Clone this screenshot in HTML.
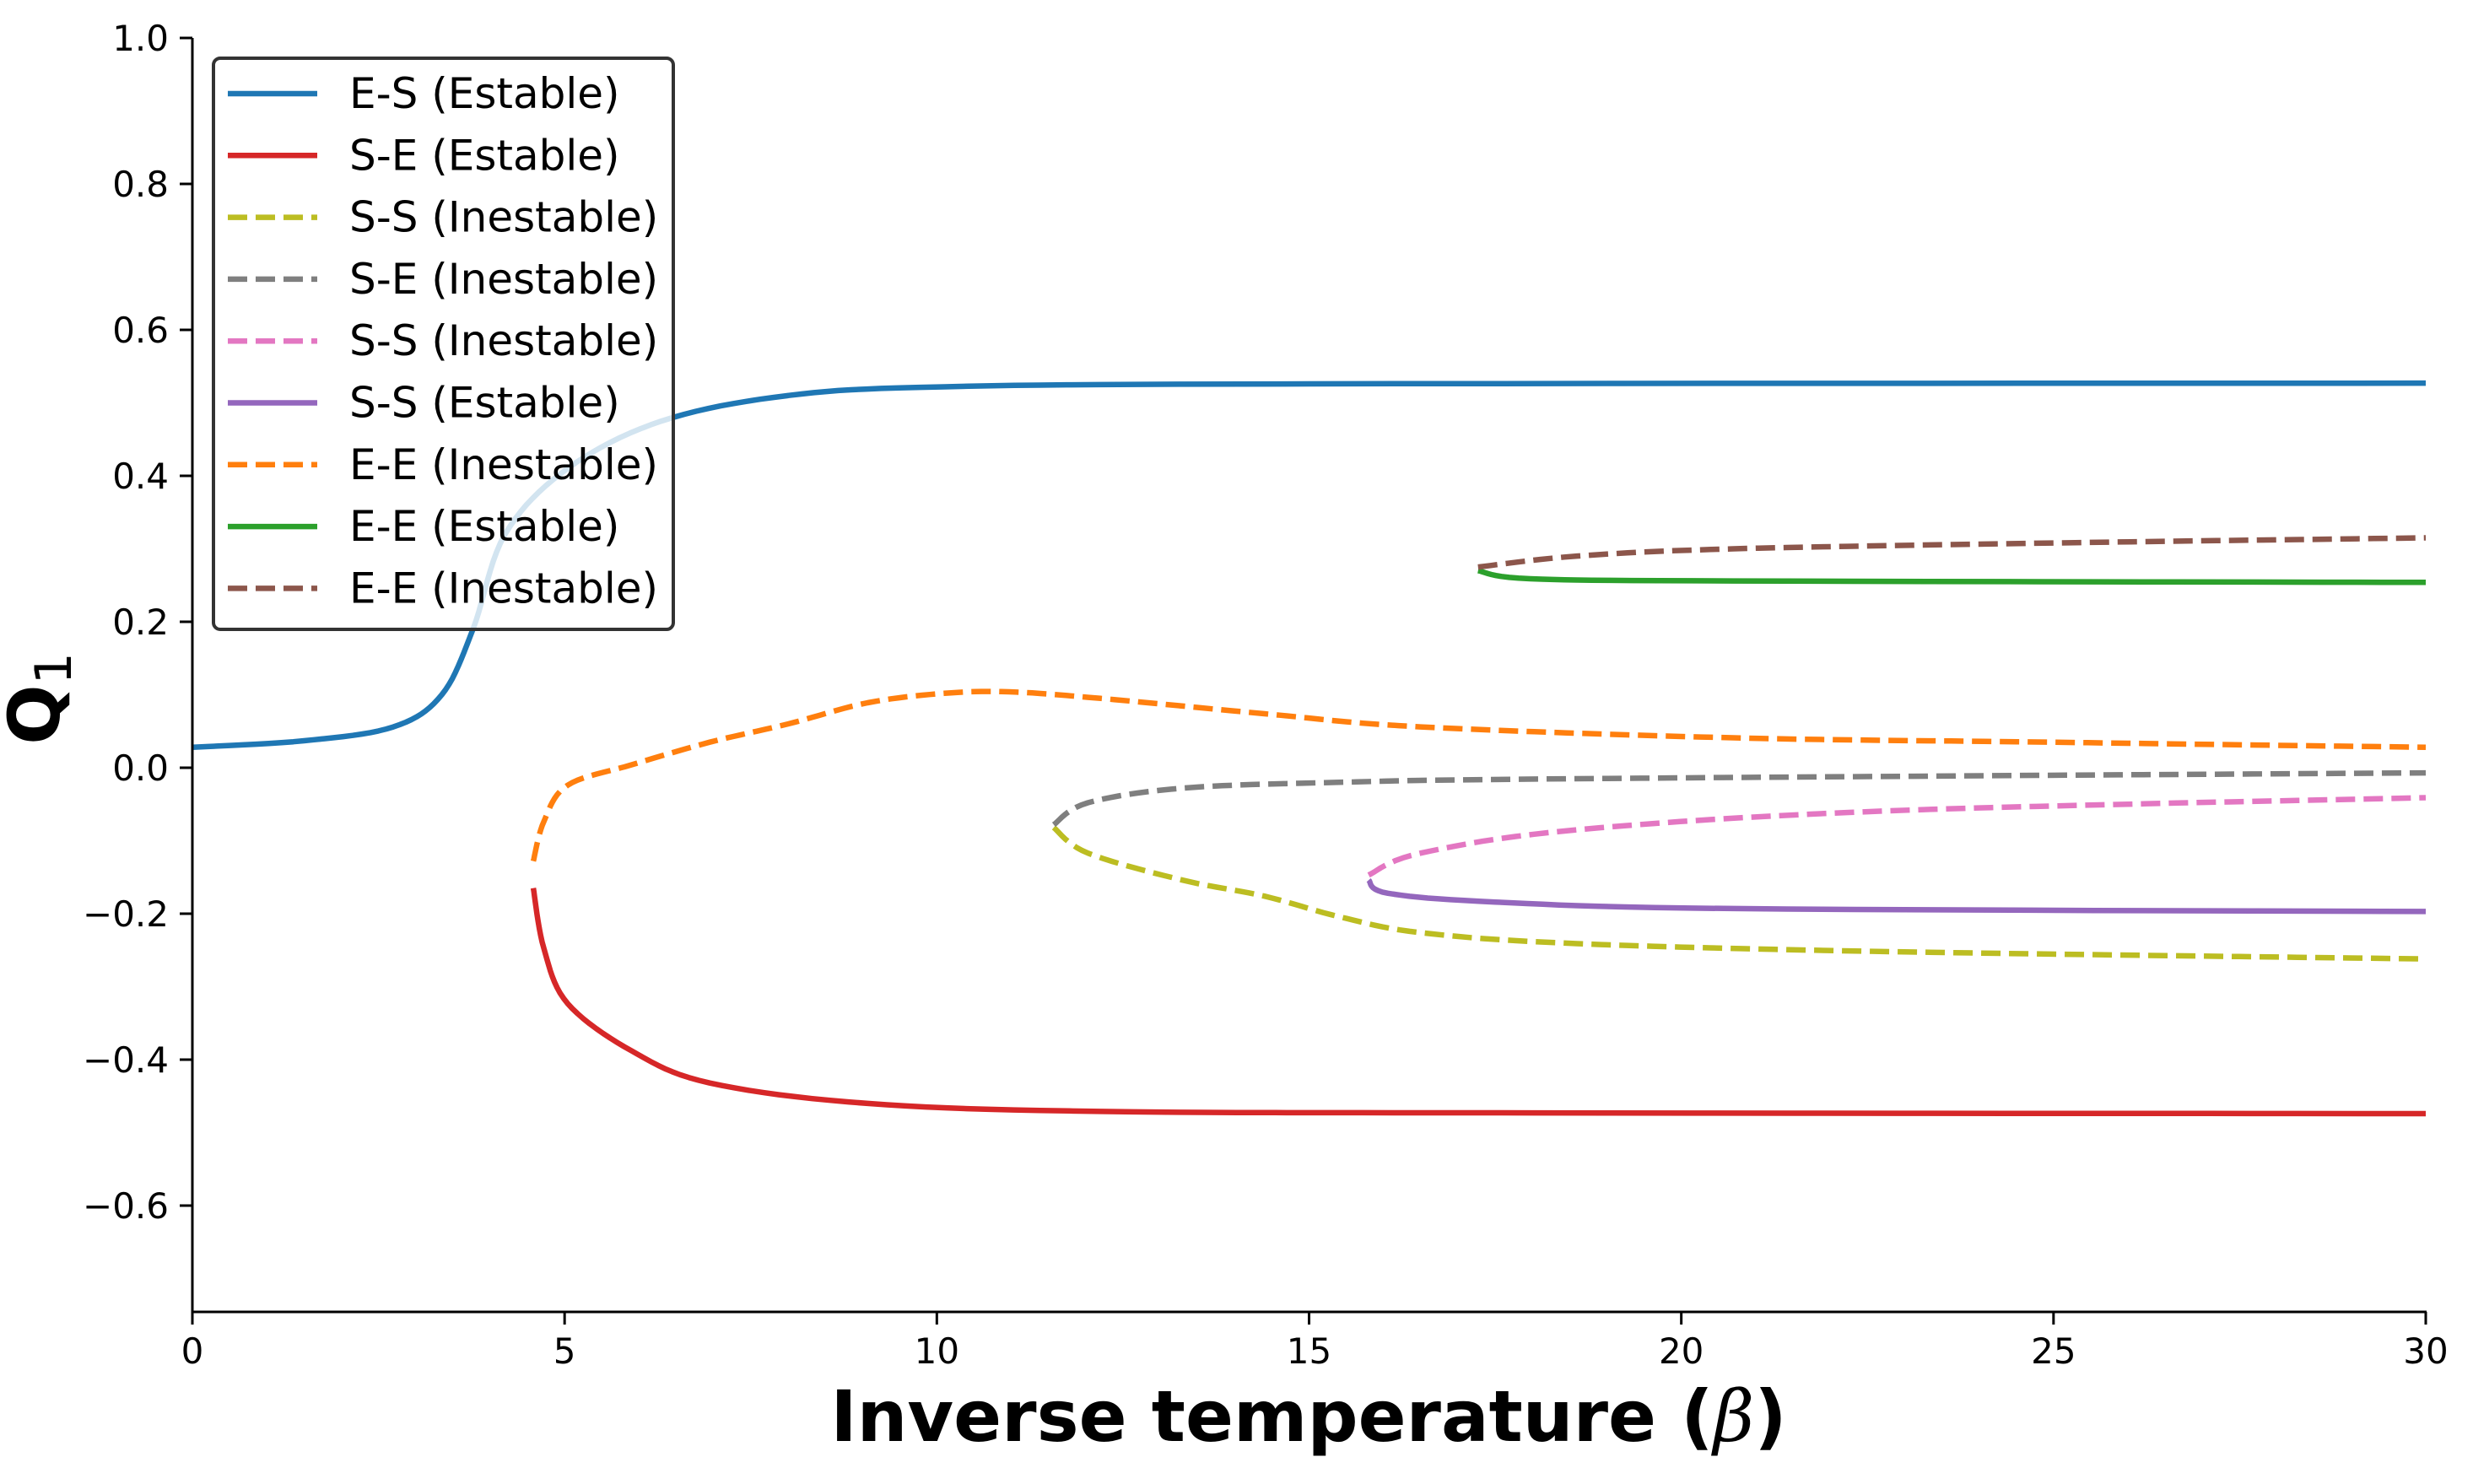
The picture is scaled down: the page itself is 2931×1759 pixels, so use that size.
<!DOCTYPE html>
<html><head><meta charset="utf-8"><style>
html,body{margin:0;padding:0;background:#fff}
svg{display:block}
text{font-family:"DejaVu Sans","Liberation Sans",sans-serif}
</style></head><body>
<svg id="s" width="2931" height="1759" xmlns="http://www.w3.org/2000/svg"></svg>
<script>
const s=document.getElementById('s');
const X=b=>228+b*(2875-228)/30, Y=q=>45+(1-q)*865;
let h='';
function line(pts,col,dash){
  let d=pts.map((p,i)=>(i?'L':'M')+X(p[0]).toFixed(1)+' '+Y(p[1]).toFixed(1)).join(' ');
  h+=`<path d="${d}" fill="none" stroke="${col}" stroke-width="6.5" stroke-linejoin="round" ${dash?'stroke-dasharray="23 10"':'stroke-linecap="butt"'}/>`;
}
function smooth(pts){
  const out=[];
  for(let i=0;i<pts.length-1;i++){
    const p0=pts[Math.max(0,i-1)],p1=pts[i],p2=pts[i+1],p3=pts[Math.min(pts.length-1,i+2)];
    for(let t=0;t<1;t+=0.1){
      const t2=t*t,t3=t2*t;
      const f=(a,b,c,d)=>0.5*((2*b)+(-a+c)*t+(2*a-5*b+4*c-d)*t2+(-a+3*b-3*c+d)*t3);
      out.push([f(p0[0],p1[0],p2[0],p3[0]),f(p0[1],p1[1],p2[1],p3[1])]);
    }
  }
  out.push(pts[pts.length-1]);return out;
}
line(smooth([[0,0.028],[1.5,0.037],[2.7,0.056],[3.35,0.1],[3.77,0.19],[4.2,0.32],[5.04,0.41],[6.3,0.475],[8,0.51],[10.1,0.522],[15,0.526],[30,0.527]]),'#1f77b4');
line(smooth([[4.58,-0.165],[4.72,-0.247],[5.04,-0.323],[5.9,-0.388],[6.95,-0.432],[9.07,-0.46],[12.2,-0.471],[18,-0.473],[30,-0.474]]),'#d62728');
line(smooth([[11.57,-0.082],[12.03,-0.117],[13.3,-0.154],[14.4,-0.176],[15.4,-0.204],[16.5,-0.226],[18.6,-0.241],[22.8,-0.252],[30,-0.262]]),'#bcbd22',1);
line(smooth([[11.57,-0.078],[12.03,-0.048],[13.3,-0.028],[15.4,-0.02],[18.6,-0.015],[30,-0.007]]),'#7f7f7f',1);
line(smooth([[15.8,-0.147],[16.5,-0.117],[18.6,-0.085],[22.8,-0.059],[30,-0.041]]),'#e377c2',1);
line(smooth([[15.8,-0.154],[16.06,-0.172],[17.5,-0.184],[20.7,-0.193],[30,-0.197]]),'#9467bd');
line(smooth([[4.58,-0.128],[4.72,-0.074],[5.04,-0.024],[5.9,0.004],[6.95,0.035],[8,0.06],[9.07,0.089],[10.1,0.102],[10.97,0.104],[12.2,0.095],[14.4,0.074],[16.5,0.056],[20.7,0.041],[24.96,0.035],[30,0.028]]),'#ff7f0e',1);
line(smooth([[17.27,0.27],[17.97,0.259],[20.7,0.256],[30,0.254]]),'#2ca02c');
line(smooth([[17.27,0.275],[18.6,0.29],[20.7,0.3],[25,0.308],[30,0.315]]),'#8c564b',1);
h+=`<line x1="228" y1="45" x2="228" y2="1556.5" stroke="#000" stroke-width="3"/>`;
h+=`<line x1="226.5" y1="1555" x2="2876" y2="1555" stroke="#000" stroke-width="3"/>`;
for(let i=0;i<=6;i++){const x=X(i*5);
 h+=`<line x1="${x}" y1="1555" x2="${x}" y2="1570" stroke="#000" stroke-width="3"/>`;
 h+=`<text x="${x}" y="1616" font-size="42" text-anchor="middle">${i*5}</text>`;}
for(let i=0;i<9;i++){const v=1-0.2*i;const y=Y(v);
 h+=`<line x1="213" y1="${y}" x2="228" y2="${y}" stroke="#000" stroke-width="3"/>`;
 const t=(Math.abs(v)<1e-9?'0.0':(v<0?'\u2212':'')+Math.abs(v).toFixed(1));
 h+=`<text x="200" y="${y+15}" font-size="42" text-anchor="end">${t}</text>`;}
h+=`<rect x="253" y="69" width="545" height="677" rx="8" fill="rgba(255,255,255,0.8)" stroke="#333" stroke-width="4"/>`;
const L=[['E-S (Estable)','#1f77b4',0],['S-E (Estable)','#d62728',0],['S-S (Inestable)','#bcbd22',1],['S-E (Inestable)','#7f7f7f',1],['S-S (Inestable)','#e377c2',1],['S-S (Estable)','#9467bd',0],['E-E (Inestable)','#ff7f0e',1],['E-E (Estable)','#2ca02c',0],['E-E (Inestable)','#8c564b',1]];
L.forEach((l,i)=>{const y=111+73.3*i;
 h+=`<line x1="270" y1="${y}" x2="376" y2="${y}" stroke="${l[1]}" stroke-width="6.5" ${l[2]?'stroke-dasharray="23 10"':''}/>`;
 h+=`<text x="414" y="${y+17}" font-size="50">${l[0]}</text>`;});
h+=`<text x="1551" y="1708" font-size="84" font-weight="bold" text-anchor="middle">Inverse temperature (<tspan font-style="italic" font-weight="normal" font-family="DejaVu Serif, serif">β</tspan>)</text>`;
h+=`<text transform="translate(70,828) rotate(-90)" font-size="84" font-weight="bold" text-anchor="middle">Q<tspan font-weight="normal" font-size="60" dy="14">1</tspan></text>`;
s.innerHTML=h;
</script>
</body></html>
